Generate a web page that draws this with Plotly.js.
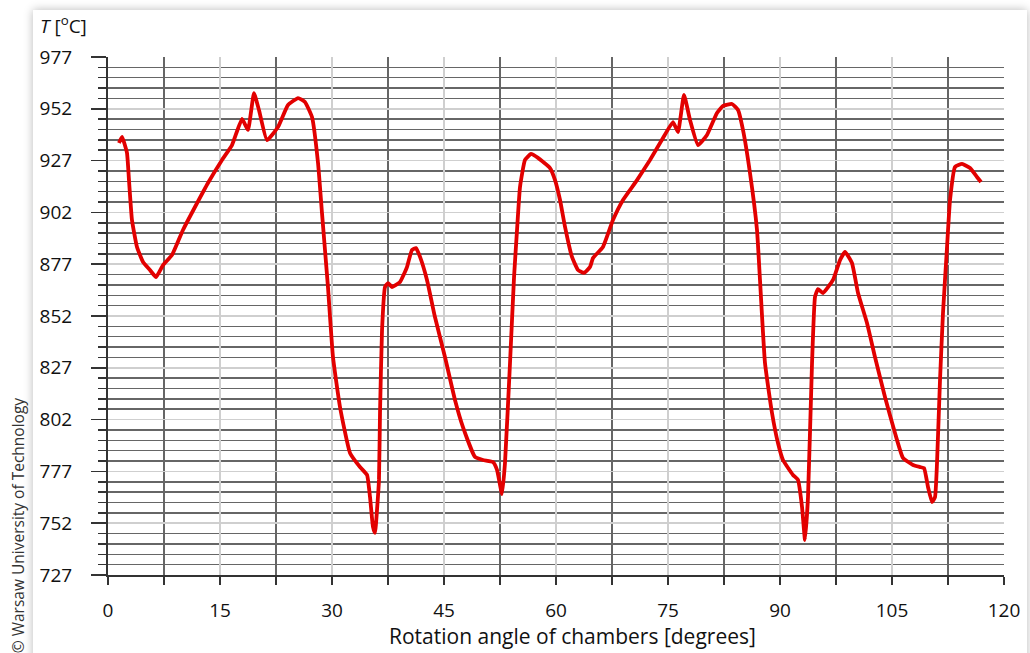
<!DOCTYPE html>
<html>
<head>
<meta charset="utf-8">
<script src="https://cdn.plot.ly/plotly-3.0.1.min.js"></script>
<style>
  html, body { margin: 0; padding: 0; background: #ffffff; width: 1030px; height: 653px; overflow: hidden; }
  #card { position: absolute; left: 33px; top: 10px; width: 994px; height: 680px; background: #ffffff;
          box-shadow: 0 0 9px rgba(0,0,0,0.28); }
  #chart { position: absolute; left: 0; top: 0; width: 1030px; height: 653px; }
</style>
</head>
<body>
<div id="card"></div>
<div id="chart"></div>
<script>
// Rotation angle of chambers [degrees]
const angle = [1.47, 1.88, 2.54, 2.81, 3.21, 3.88, 4.69, 5.62, 6.43, 7.37, 8.57, 10.04, 11.65, 13.39, 15.27, 16.61,
  17.95, 18.75, 19.55, 20.22, 21.29, 22.77, 24.11, 25.45, 26.38, 27.32, 28.13, 28.66, 29.46, 30.13, 31.07, 32.41,
  33.75, 34.69, 35.09, 35.49, 35.76, 36.03, 36.29, 36.43, 36.70, 37.10, 37.50, 38.04, 39.11, 40.04, 40.71, 41.25,
  41.79, 42.72, 43.79, 45.13, 46.47, 47.54, 49.15, 50.22, 51.56, 52.10, 52.77, 53.17, 53.84, 54.38, 54.78, 55.18,
  55.85, 56.65, 57.59, 59.20, 59.87, 60.54, 61.21, 62.14, 62.95, 63.75, 64.55, 64.96, 66.29, 67.63, 68.97, 70.85,
  72.59, 74.33, 75.67, 76.34, 77.14, 77.95, 79.02, 80.22, 81.56, 82.37, 83.57, 84.38, 85.04, 85.98, 86.92, 87.32,
  87.99, 88.93, 89.73, 90.40, 91.74, 92.41, 92.95, 93.35, 93.75, 94.29, 94.69, 95.09, 95.76, 97.10, 98.04, 98.71,
  99.64, 100.45, 101.65, 102.72, 104.06, 105.40, 106.47, 107.81, 108.75, 109.29, 109.82, 110.36, 110.76, 111.03,
  111.43, 111.83, 112.37, 112.77, 113.44, 114.38, 115.45, 116.38, 116.92];
// Temperature T [°C]
const temperature = [935.5, 938.4, 930.7, 917.6, 898.3, 885.3, 878.1, 874.2, 870.8, 876.6, 881.4, 893.5, 904.6, 916.2, 927.3, 934.5,
  947.1, 941.8, 959.6, 951.4, 936.9, 943.2, 953.8, 957.2, 955.3, 948.0, 925.8, 901.7, 866.0, 832.2, 808.1, 785.9,
  779.1, 775.3, 764.6, 750.2, 747.3, 758.4, 772.9, 805.2, 845.2, 866.0, 867.9, 866.0, 868.4, 875.6, 883.9, 884.8,
  880.5, 869.4, 851.5, 832.2, 811.5, 798.4, 784.0, 782.5, 781.5, 777.7, 766.1, 781.1, 829.3, 870.8, 893.5, 914.3,
  927.3, 930.2, 928.3, 923.4, 917.6, 908.0, 895.0, 880.5, 874.2, 872.8, 875.6, 880.0, 885.3, 898.3, 908.0, 917.6,
  927.3, 937.9, 945.6, 940.8, 958.7, 946.6, 934.5, 939.4, 950.0, 953.4, 954.3, 951.4, 941.8, 921.0, 893.5, 869.4,
  829.3, 805.2, 790.7, 782.5, 775.3, 772.9, 759.8, 743.9, 764.6, 829.3, 861.2, 865.0, 863.1, 869.4, 879.0, 882.9,
  877.6, 863.1, 848.6, 832.2, 812.9, 795.5, 783.5, 780.1, 779.1, 778.6, 769.5, 762.2, 764.6, 781.1,
  821.1, 853.5, 885.3, 908.0, 923.9, 925.4, 923.4, 919.1, 916.7];

const xTickVals = [0, 15, 30, 45, 60, 75, 90, 105, 120];
const yTickVals = [727, 752, 777, 802, 827, 852, 877, 902, 927, 952, 977];

const FONT = '"Open Sans", "Noto Sans", sans-serif';

const trace = {
  x: angle, y: temperature, type: 'scatter', mode: 'lines',
  line: { color: 'rgb(226,0,0)', width: 3.8, shape: 'spline', smoothing: 0.4 },
  hoverinfo: 'x+y'
};

const layout = {
  width: 1030, height: 653,
  margin: { l: 108, r: 26, t: 57, b: 78 },
  paper_bgcolor: 'rgba(0,0,0,0)',
  plot_bgcolor: 'rgba(0,0,0,0)',
  showlegend: false,
  font: { family: FONT, color: '#111111', size: 19 },
  xaxis: {
    range: [0, 120], tickmode: 'array', tickvals: xTickVals, ticktext: xTickVals.map(String),
    showgrid: true, gridcolor: '#cfcfcf', gridwidth: 1.5,
    ticks: 'outside', ticklen: 8, tickwidth: 1.5, tickcolor: '#333333',
    ticklabelstandoff: 9,
    showline: true, linecolor: '#333333', linewidth: 2,
    zeroline: false,
    minor: { tickmode: 'linear', tick0: 0, dtick: 7.5, showgrid: true, gridcolor: '#666666', gridwidth: 1.5,
             ticks: 'outside', ticklen: 8, tickwidth: 1.5, tickcolor: '#333333' },
    tickfont: { family: FONT, size: 19, color: '#111111' }
  },
  yaxis: {
    range: [727, 977], tickmode: 'array', tickvals: yTickVals, ticktext: yTickVals.map(String),
    showgrid: true, gridcolor: '#cfcfcf', gridwidth: 1.5,
    ticks: 'outside', ticklen: 15, tickwidth: 1.5, tickcolor: '#333333',
    ticklabelstandoff: 15,
    showline: true, linecolor: '#333333', linewidth: 2,
    zeroline: false,
    minor: { tickmode: 'linear', tick0: 727, dtick: 5, showgrid: true, gridcolor: '#666666', gridwidth: 1.5,
             ticks: 'outside', ticklen: 8, tickwidth: 1.5, tickcolor: '#333333' },
    tickfont: { family: FONT, size: 19, color: '#111111' }
  },
  annotations: [
    { text: 'Rotation angle of chambers [degrees]', xref: 'paper', yref: 'paper', x: 0.518, y: -0.118,
      xanchor: 'center', yanchor: 'middle', showarrow: false, font: { family: FONT, size: 21, color: '#111111' } },
    { text: '<i>T</i> [<sup>o</sup>C]', xref: 'paper', yref: 'paper', x: -0.078, y: 1.062,
      xanchor: 'left', yanchor: 'middle', showarrow: false, font: { family: FONT, size: 19, color: '#111111' } },
    { text: '© Warsaw University of Technology', xref: 'paper', yref: 'paper', x: -0.1005, y: 0.096,
      xanchor: 'center', yanchor: 'middle', textangle: -90, showarrow: false,
      font: { family: FONT, size: 15.5, color: '#333333' } }
  ]
};

Plotly.newPlot('chart', [trace], layout, { displayModeBar: false, staticPlot: true });
</script>
</body>
</html>
